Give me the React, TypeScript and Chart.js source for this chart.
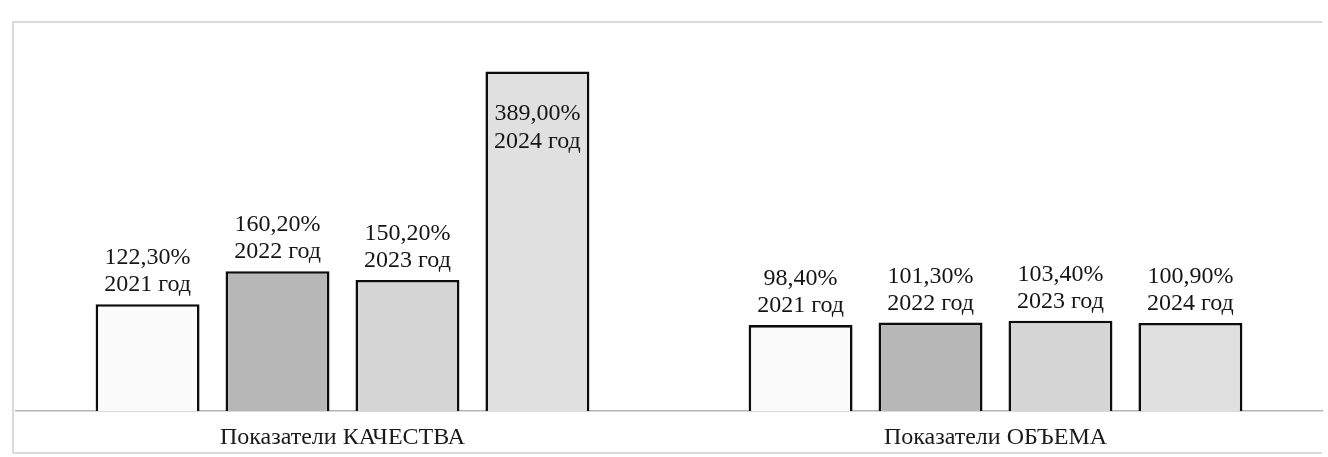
import React, { useEffect, useRef } from "react";
import { Chart, registerables } from "chart.js";

Chart.register(...registerables);

const categories = ["Показатели КАЧЕСТВА", "Показатели ОБЪЕМА"];
const years = ["2021 год", "2022 год", "2023 год", "2024 год"];
const values2021 = [122.3, 98.4];
const values2022 = [160.2, 101.3];
const values2023 = [150.2, 103.4];
const values2024 = [389.0, 100.9];
const barColors = ["#fbfbfb", "#b7b7b7", "#d5d5d5", "#e0e0e0"];

const FONT = "'Liberation Serif', 'Times New Roman', serif";

const fmt = (v: number) => v.toFixed(2).replace(".", ",") + "%";

const labelPlugin = {
  id: "barLabels",
  afterDatasetsDraw(chart: any) {
    const { ctx, chartArea } = chart;
    ctx.save();
    ctx.font = `24px ${FONT}`;
    ctx.fillStyle = "#151515";
    ctx.textAlign = "center";
    ctx.textBaseline = "alphabetic";
    chart.data.datasets.forEach((ds: any, di: number) => {
      const meta = chart.getDatasetMeta(di);
      meta.data.forEach((bar: any, i: number) => {
        const v = ds.data[i];
        const l1 = fmt(v);
        const l2 = ds.label;
        let b1 = bar.y - 13 - 27;
        let b2 = bar.y - 13;
        if (b1 - 20 < chartArea.top + 30) {
          b1 = bar.y + 48;
          b2 = bar.y + 76;
        }
        ctx.fillText(l1, bar.x, b1);
        ctx.fillText(l2, bar.x, b2);
      });
    });
    ctx.restore();
  },
};

const framePlugin = {
  id: "frame",
  beforeDraw(chart: any) {
    const { ctx, width, height } = chart;
    ctx.save();
    ctx.strokeStyle = "#cfcfcf";
    ctx.lineWidth = 1.5;
    ctx.beginPath();
    ctx.moveTo(13, height - 4);
    ctx.lineTo(13, 22);
    ctx.lineTo(width - 6, 22);
    ctx.moveTo(13, height - 4);
    ctx.lineTo(width - 6, height - 4);
    ctx.stroke();
    ctx.restore();
  },
};

export default function App() {
  const ref = useRef<HTMLCanvasElement | null>(null);
  useEffect(() => {
    if (!ref.current) return;
    const datasets = [values2021, values2022, values2023, values2024].map((d, i) => ({
      label: years[i],
      data: d,
      backgroundColor: barColors[i],
      borderColor: "#0c0c0c",
      borderWidth: 2.6,
      borderSkipped: "bottom" as const,
      categoryPercentage: 0.796,
      barPercentage: 0.8,
    }));
    const chart = new Chart(ref.current, {
      type: "bar",
      data: { labels: categories, datasets },
      options: {
        animation: false,
        responsive: false,
        maintainAspectRatio: false,
        layout: { padding: { left: 16, right: 6, top: 27, bottom: 0 } },
        plugins: { legend: { display: false }, tooltip: { enabled: false } },
        scales: {
          x: {
            grid: { display: false, drawTicks: false },
            border: { display: true, color: "#b5b5b5", width: 1.5 },
            ticks: {
              font: { family: FONT, size: 24 },
              color: "#1a1a1a",
              padding: 12,
              maxRotation: 0,
            },
            afterFit: (s: any) => {
              s.height = 46;
            },
          },
          y: {
            display: false,
            min: 0,
            max: 440,
          },
        },
      },
      plugins: [framePlugin, labelPlugin],
    });
    return () => chart.destroy();
  }, []);
  return (
    <div style={{ position: "fixed", left: 0, top: 0, width: 1328, height: 457, background: "#fff" }}>
      <canvas ref={ref} width={1328} height={457} style={{ display: "block" }} />
    </div>
  );
}
